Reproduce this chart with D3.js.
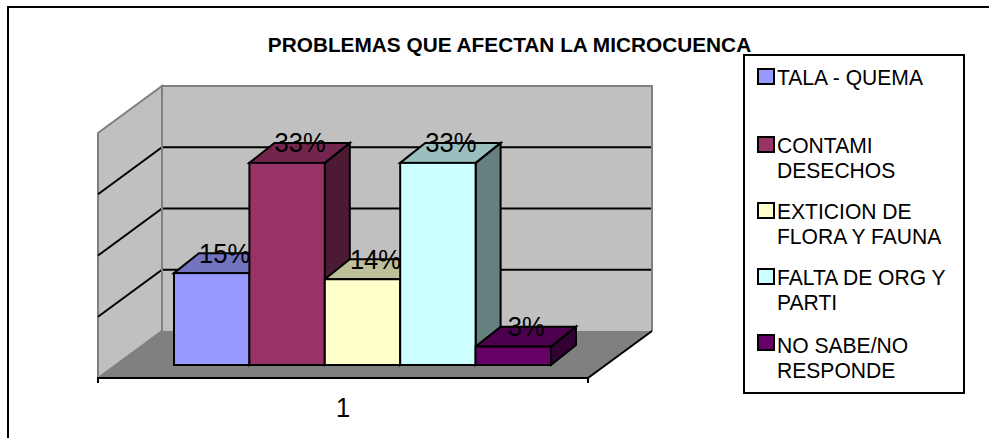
<!DOCTYPE html>
<html><head><meta charset="utf-8">
<style>html,body{margin:0;padding:0;background:#fff}svg{display:block}text{font-family:"Liberation Sans",Arial,sans-serif;fill:#000}</style>
<script src="https://cdn.jsdelivr.net/npm/d3@7"></script></head><body>
<svg id="c" width="989" height="439"></svg>
<script>
const categories = ["TALA - QUEMA","CONTAMI DESECHOS","EXTICION DE FLORA Y FAUNA","FALTA DE ORG Y PARTI","NO SABE/NO RESPONDE"];
const legendLines = [["TALA - QUEMA"],["CONTAMI","DESECHOS"],["EXTICION DE","FLORA Y FAUNA"],["FALTA DE ORG Y","PARTI"],["NO SABE/NO","RESPONDE"]];
const values = [15,33,14,33,3];
const valueLabels = ["15%","33%","14%","33%","3%"];
const colors = ["#9999ff","#993366","#ffffcc","#ccffff","#660066"];
const topColors = ["#7373bf","#73264d","#bfbf99","#99bfbf","#4d004d"];
const sideColors = ["#4d4d80","#4d1a33","#808066","#668080","#330033"];
const yTicks = [0,10,20,30,40];
const title = "PROBLEMAS QUE AFECTAN LA MICROCUENCA";
const axisLabel = ["1"];

const svg = d3.select("#c");
const y = d3.scaleLinear().domain([0,40]).range([365,120]);
const x = d3.scaleBand().domain(categories).range([174,551]).padding(0);
const wallDx=64, wallDy=-47, barDx=25, barDy=-20;
const frontL=98, frontR=588, frontY=378;
const poly=(pts,fill,stroke,sw)=>svg.append("path").attr("d","M"+pts.map(p=>p.join(",")).join("L")+"Z")
  .attr("fill",fill).attr("stroke",stroke||"none").attr("stroke-width",sw||0).attr("stroke-linejoin","miter");
const narrow=(sel,k)=>{const n=sel.node();sel.attr("textLength",n.getComputedTextLength()*k).attr("lengthAdjust","spacingAndGlyphs");return sel;};

svg.append("path").attr("fill","none").attr("stroke","#000").attr("stroke-width",2)
  .attr("d","M8,438V7H989");

const wy=d3.scaleLinear().domain([0,40]).range([frontY,frontY-245]);
const backL=frontL+wallDx, backR=frontR+wallDx;
poly([[backL,wy(40)+wallDy],[backR,wy(40)+wallDy],[backR,wy(0)+wallDy],[backL,wy(0)+wallDy]],"#c0c0c0");
poly([[frontL,wy(0)],[backL,wy(0)+wallDy],[backL,wy(40)+wallDy],[frontL,wy(40)]],"#c0c0c0","#808080",2);
poly([[frontL,frontY],[backL,frontY+wallDy],[backR,frontY+wallDy],[frontR,frontY]],"#808080");
yTicks.slice(1,-1).forEach(t=>{
  svg.append("path").attr("fill","none").attr("stroke","#000").attr("stroke-width",2)
    .attr("d",`M${frontL},${wy(t)}L${backL},${wy(t)+wallDy}L${backR},${wy(t)+wallDy}`);
});
svg.append("path").attr("fill","none").attr("stroke","#808080").attr("stroke-width",2)
  .attr("d",`M${backL},${frontY+wallDy}V${wy(40)+wallDy}H${backR}V${frontY+wallDy}`);
svg.append("path").attr("fill","none").attr("stroke","#000").attr("stroke-width",2)
  .attr("d",`M${frontL},${frontY+5}V${frontY}H${frontR}V${frontY+5}M${frontR},${frontY}L${backR},${frontY+wallDy}`);
categories.forEach((c,i)=>{
  const x0=x(c), x1=x0+x.bandwidth(), yt=y(values[i]), yb=y(0);
  poly([[x1,yb],[x1+barDx,yb+barDy],[x1+barDx,yt+barDy],[x1,yt]],sideColors[i],"#000",2);
  poly([[x0,yt],[x0+barDx,yt+barDy],[x1+barDx,yt+barDy],[x1,yt]],topColors[i],"#000",2);
});
categories.forEach((c,i)=>{
  const x0=x(c), x1=x0+x.bandwidth(), yt=y(values[i]), yb=y(0);
  svg.append("rect").attr("x",x0).attr("y",yt).attr("width",x1-x0).attr("height",yb-yt).attr("fill",colors[i]).attr("stroke","#000").attr("stroke-width",2);
});
categories.forEach((c,i)=>{
  narrow(svg.append("text").attr("x",x(c)+x.bandwidth()/2+13).attr("y",y(values[i])-10.5).attr("text-anchor","middle").attr("font-size",27.5).text(valueLabels[i]),0.93);
});
narrow(svg.append("text").attr("x",343).attr("y",416.5).attr("text-anchor","middle").attr("font-size",27.5).text(axisLabel[0]),0.93);
svg.append("text").attr("x",509.5).attr("y",52).attr("text-anchor","middle").attr("font-size",20.8).attr("font-weight","bold").text(title);
svg.append("rect").attr("x",744).attr("y",55).attr("width",220).attr("height",338).attr("fill","#fff").attr("stroke","#000").attr("stroke-width",2);
const legY=[69,137,203,269,335];
const legBase=[85,153,219,285,353];
legendLines.forEach((ls,i)=>{
  svg.append("rect").attr("x",758).attr("y",legY[i]).attr("width",16).attr("height",15).attr("fill",colors[i]).attr("stroke","#000").attr("stroke-width",2);
  ls.forEach((t,j)=>narrow(svg.append("text").attr("x",777).attr("y",legBase[i]+j*25).attr("font-size",21.5).text(t),0.98));
});
</script></body></html>
